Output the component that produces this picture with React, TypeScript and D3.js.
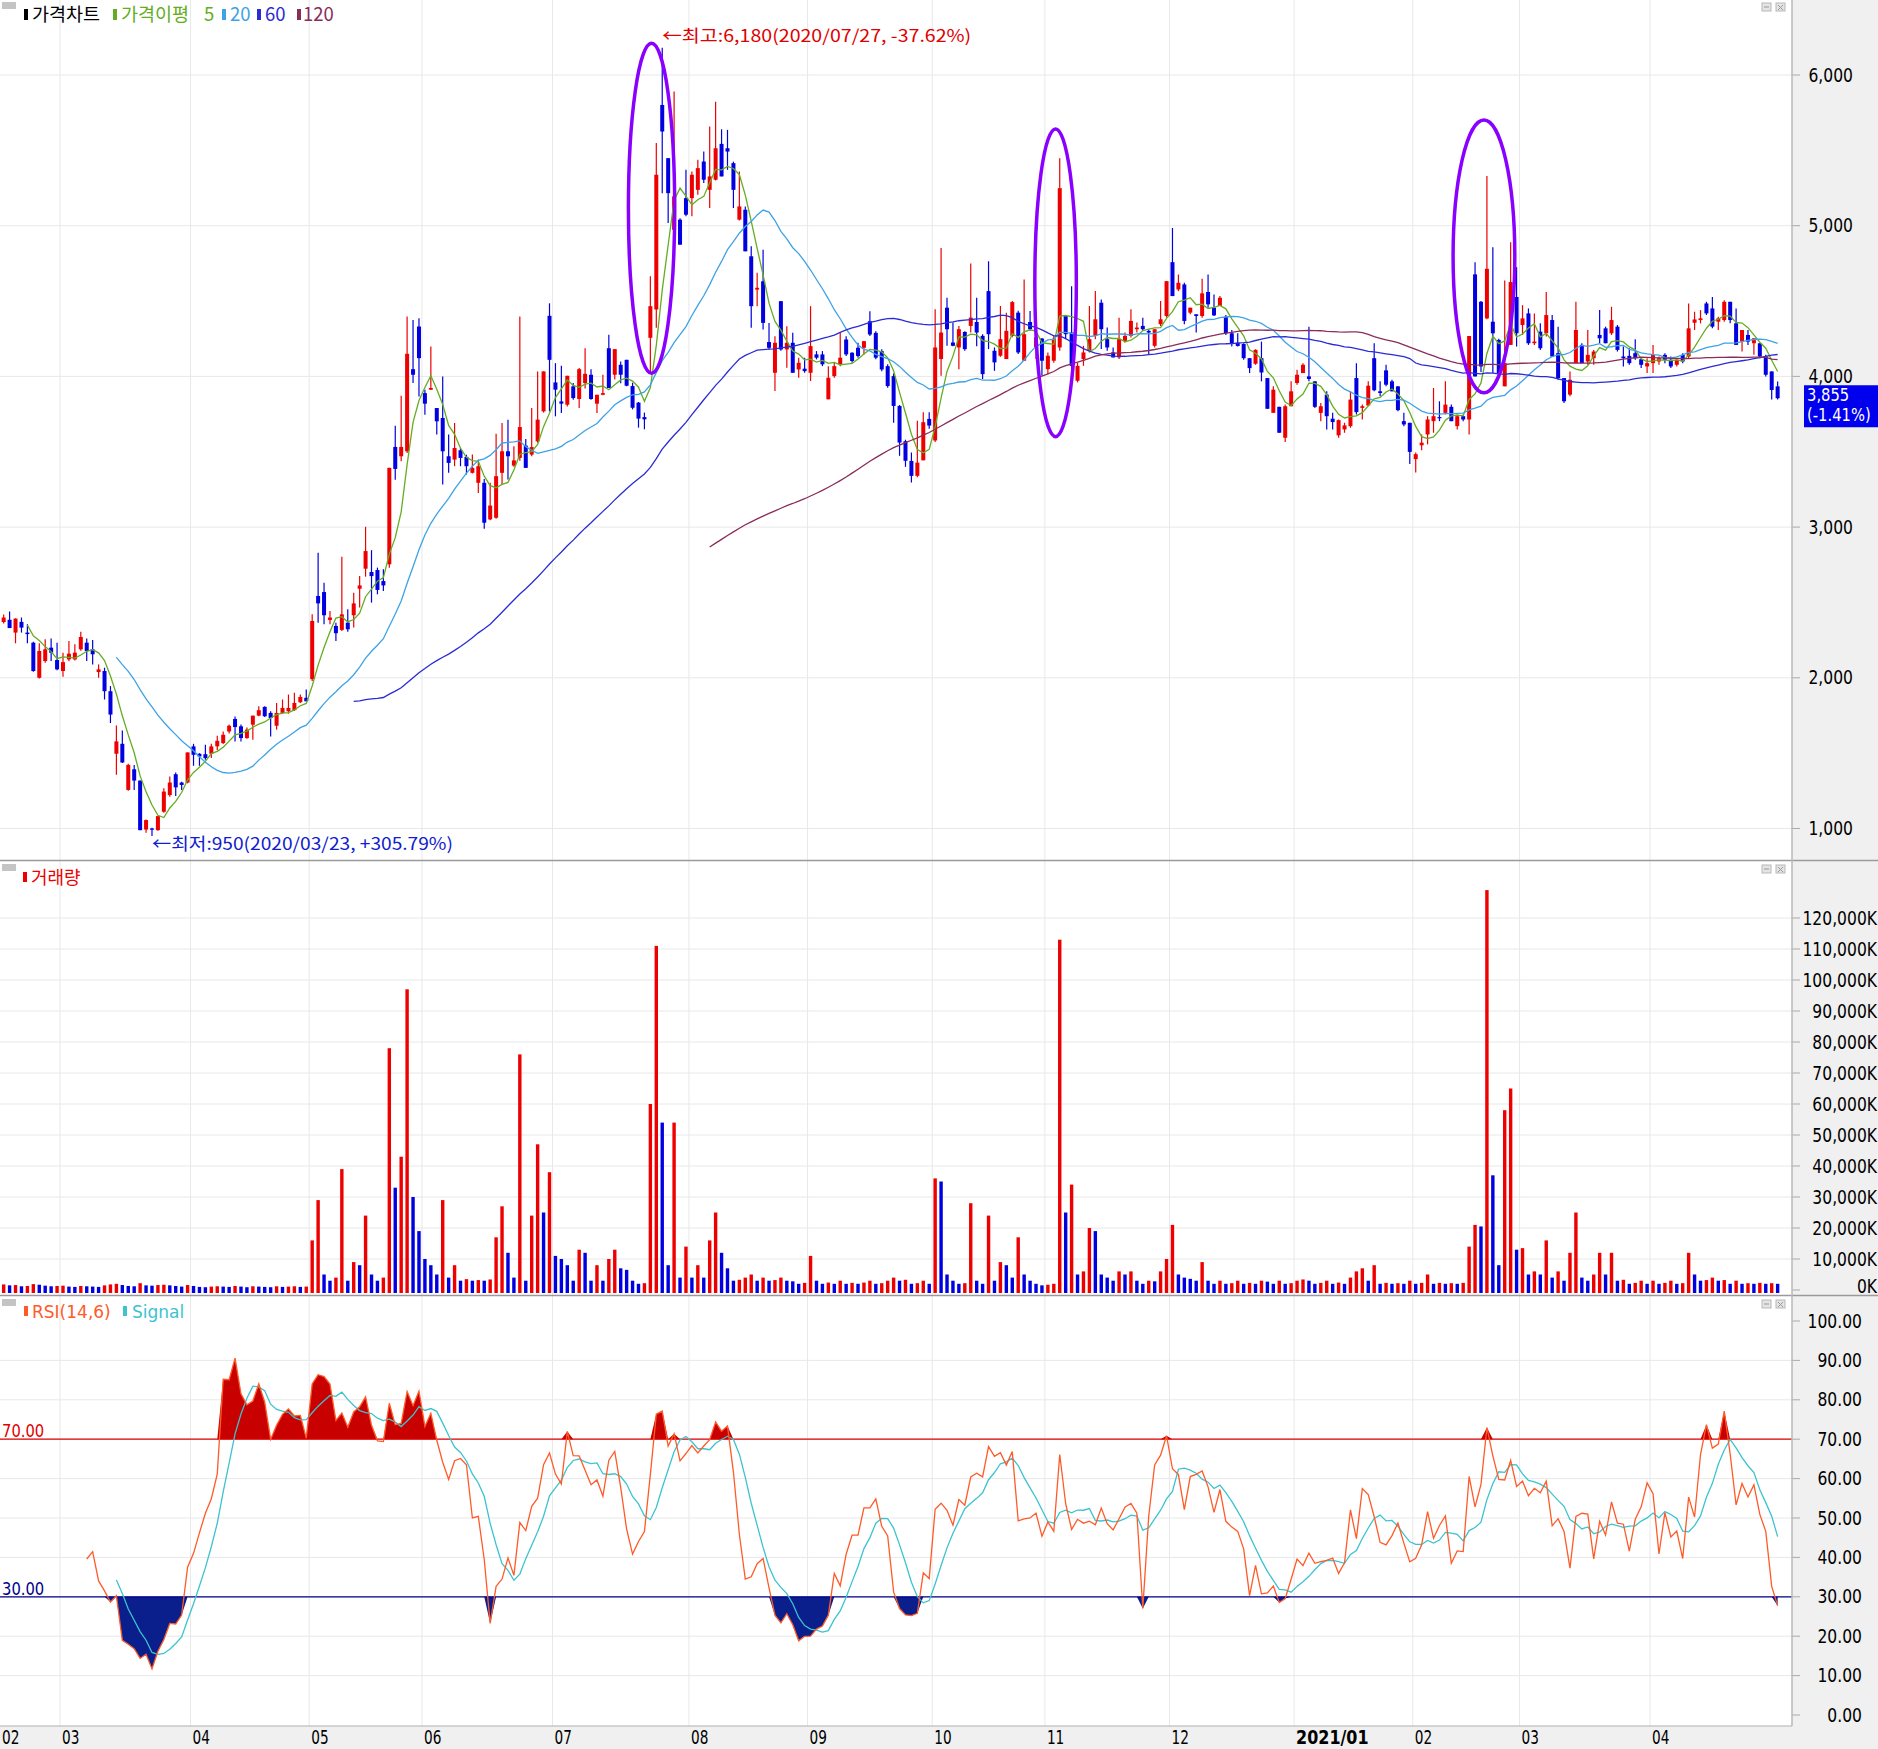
import React from 'react';
import * as d3 from 'd3';

const W = 1878;
const H = 1749;
const PLOT_R = 1792;

const monthLabels = ['02', '03', '04', '05', '06', '07', '08', '09', '10', '11', '12', '2021/01', '02', '03', '04'];
const monthTradingDays = [10, 22, 20, 19, 22, 23, 20, 21, 19, 21, 21, 20, 18, 22, 22];

const opens = [
  2370, 2385, 2300, 2371, 2300, 2233, 2000, 2111, 2200, 2118,
  2045, 2122, 2122, 2189, 2233, 2189, 2038, 2045, 1911, 1496,
  1562, 1256, 1393, 1318, 993, 1000, 989, 1111, 1222, 1360,
  1305, 1305, 1545, 1496, 1493, 1496, 1545, 1567, 1644, 1727,
  1678, 1600, 1689, 1749, 1807, 1767, 1682, 1767, 1778, 1785,
  1838, 1867, 1991, 2543, 2569, 2384, 2344, 2318, 2366, 2415,
  2591, 2724, 2702, 2715, 2642, 2753, 3532, 3470, 3503, 4048,
  4331, 3889, 3912, 3790, 3724, 3470, 3448, 3510, 3466, 3360,
  3294, 3294, 3051, 3062, 3360, 3503, 3408, 3459, 3541, 3481,
  3569, 3768, 4402, 3960, 3834, 3812, 3934, 3850, 3956, 4011,
  3819, 3878, 4187, 4011, 4077, 4110, 3936, 3826, 3730, 4256,
  4444, 5801, 5448, 4973, 5040, 5183, 5183, 5238, 5426, 5238,
  5305, 5543, 5514, 5415, 5040, 5106, 4797, 4576, 4631, 4228,
  4024, 4499, 4179, 4223, 4046, 4051, 4024, 4146, 4146, 3848,
  4002, 4079, 4245, 4157, 4190, 4190, 4366, 4289, 4168, 4068,
  4002, 3804, 3570, 3439, 3340, 3443, 3718, 3575, 4115, 4456,
  4225, 4192, 4295, 4335, 4361, 4269, 4566, 4170, 4137, 4115,
  4269, 4423, 4104, 4361, 4192, 4251, 4048, 4104, 4192, 4401,
  4291, 3971, 4115, 4170, 4269, 4489, 4247, 4159, 4126, 4236,
  4269, 4313, 4335, 4302, 4203, 4346, 4401, 4758, 4577, 4610,
  4423, 4412, 4401, 4560, 4456, 4467, 4396, 4286, 4224, 4215,
  4121, 4084, 4121, 3989, 3758, 3798, 3593, 3802, 3956, 4022,
  4000, 3967, 3758, 3879, 3719, 3609, 3648, 3670, 3989, 3791,
  3807, 4121, 3901, 4040, 3967, 3934, 3703, 3692, 3451, 3543,
  3615, 3703, 3730, 3758, 3798, 3670, 3736, 3714, 4677, 4495,
  4385, 4363, 4242, 3934, 4209, 4527, 4341, 4418, 4220, 4297,
  4286, 4374, 4154, 3989, 3879, 4088, 4209, 4099, 4121, 4275,
  4319, 4286, 4330, 4132, 4136, 4154, 4114, 4066, 4088, 4099,
  4143, 4110, 4077, 4143, 4132, 4356, 4374, 4484, 4451, 4363,
  4374, 4495, 4352, 4231, 4275, 4220, 4220, 4132, 4033, 3934,
];

const highs = [
  2420, 2440, 2395, 2400, 2355, 2240, 2230, 2256, 2260, 2233,
  2167, 2245, 2222, 2305, 2260, 2251, 2089, 2067, 1945, 1683,
  1651, 1430, 1422, 1318, 1060, 1005, 1085, 1267, 1345, 1371,
  1311, 1505, 1562, 1500, 1556, 1562, 1616, 1644, 1690, 1744,
  1690, 1670, 1749, 1811, 1811, 1778, 1833, 1856, 1889, 1900,
  1889, 1922, 2421, 2830, 2631, 2444, 2366, 2803, 2455, 2565,
  2675, 3002, 2847, 2731, 2720, 3393, 3673, 3872, 4397, 4375,
  4386, 3911, 4199, 3790, 4000, 3614, 3691, 3525, 3480, 3481,
  3448, 3320, 3294, 3620, 3691, 3713, 3536, 4397, 3585, 3790,
  4033, 4033, 4485, 4088, 4070, 4004, 3956, 4055, 4187, 4048,
  3878, 4011, 4276, 4181, 4099, 4110, 3958, 3830, 3760, 4664,
  5548, 6180, 5450, 5890, 5050, 5371, 5360, 5437, 5492, 5658,
  5823, 5640, 5636, 5425, 5360, 5128, 4863, 4687, 4841, 4355,
  4267, 4500, 4333, 4289, 4123, 4124, 4466, 4168, 4168, 4068,
  4090, 4289, 4267, 4160, 4223, 4234, 4433, 4300, 4180, 4080,
  4020, 3810, 3580, 3495, 3705, 3762, 3762, 4445, 4852, 4522,
  4357, 4335, 4300, 4749, 4522, 4280, 4764, 4192, 4467, 4423,
  4500, 4435, 4643, 4434, 4270, 4255, 4159, 4269, 5447, 4401,
  4599, 4090, 4203, 4467, 4566, 4511, 4324, 4192, 4390, 4291,
  4445, 4357, 4390, 4313, 4313, 4500, 4632, 4985, 4676, 4621,
  4456, 4412, 4648, 4676, 4544, 4533, 4407, 4308, 4286, 4220,
  4121, 4180, 4231, 3989, 3934, 3798, 3813, 3967, 4044, 4088,
  4330, 3967, 3824, 3901, 3758, 3714, 3692, 3901, 4088, 3813,
  3967, 4220, 3967, 4077, 3978, 3934, 3758, 3692, 3495, 3615,
  3736, 3923, 3835, 3967, 3813, 3747, 3747, 4268, 4758, 4500,
  5330, 4857, 4250, 4637, 4890, 4725, 4473, 4451, 4418, 4352,
  4560, 4407, 4330, 3989, 4033, 4495, 4220, 4308, 4176, 4440,
  4330, 4462, 4341, 4198, 4187, 4246, 4121, 4121, 4209, 4132,
  4154, 4132, 4121, 4154, 4484, 4429, 4440, 4495, 4527, 4396,
  4506, 4495, 4451, 4308, 4308, 4253, 4220, 4143, 4033, 3966,
];

const lows = [
  2360, 2330, 2229, 2300, 2229, 2040, 1995, 2100, 2111, 2050,
  2007, 2110, 2115, 2180, 2111, 2089, 2000, 1856, 1700, 1356,
  1435, 1250, 1256, 989, 971, 950, 985, 1105, 1211, 1216,
  1256, 1300, 1416, 1416, 1456, 1467, 1520, 1560, 1630, 1578,
  1578, 1595, 1589, 1745, 1740, 1611, 1656, 1762, 1762, 1780,
  1833, 1844, 1978, 2366, 2355, 2355, 2245, 2311, 2305, 2333,
  2466, 2671, 2499, 2554, 2576, 2731, 3315, 3437, 3492, 3956,
  3867, 3746, 3910, 3614, 3282, 3360, 3404, 3404, 3349, 3355,
  3227, 2989, 3045, 3055, 3282, 3316, 3400, 3440, 3393, 3470,
  3560, 3760, 3768, 3735, 3757, 3800, 3845, 3790, 3920, 3845,
  3757, 3875, 3923, 3980, 3955, 3934, 3781, 3660, 3649, 4024,
  4322, 5216, 5018, 4841, 4874, 5062, 5062, 5205, 5283, 5117,
  5300, 5327, 5371, 5117, 5035, 4830, 4322, 4466, 4311, 4179,
  3903, 4170, 4057, 4024, 3991, 4024, 3969, 4113, 4068, 3848,
  3991, 4068, 4135, 4090, 4124, 4146, 4268, 4113, 4035, 3925,
  3693, 3473, 3400, 3296, 3330, 3443, 3652, 3564, 4004, 4203,
  4200, 4048, 4170, 4291, 4200, 3982, 4181, 4037, 4130, 4115,
  4260, 4148, 4104, 4302, 4115, 4004, 4015, 4090, 4170, 4247,
  4048, 3960, 4070, 4159, 4247, 4181, 4170, 4126, 4115, 4225,
  4258, 4291, 4302, 4148, 4192, 4335, 4390, 4533, 4566, 4346,
  4412, 4291, 4390, 4456, 4401, 4467, 4275, 4198, 4198, 4110,
  4022, 4077, 3967, 3785, 3758, 3626, 3565, 3802, 3945, 4022,
  3967, 3791, 3703, 3648, 3648, 3593, 3626, 3659, 3747, 3714,
  3802, 3901, 3868, 3934, 3901, 3769, 3670, 3418, 3363, 3510,
  3549, 3626, 3703, 3747, 3703, 3648, 3703, 3615, 4000, 4030,
  4380, 4022, 4000, 3934, 4209, 4198, 4275, 4209, 4209, 4176,
  4264, 4132, 3978, 3824, 3868, 4088, 4088, 4077, 4077, 4220,
  4220, 4275, 4165, 4066, 4077, 4110, 4055, 4022, 4022, 4077,
  4088, 4055, 4066, 4088, 4121, 4308, 4352, 4407, 4319, 4308,
  4363, 4352, 4209, 4165, 4209, 4143, 4121, 3999, 3846, 3846,
];

const closes = [
  2400, 2330, 2393, 2333, 2290, 2045, 2178, 2189, 2167, 2056,
  2104, 2160, 2167, 2271, 2178, 2156, 2056, 1911, 1756, 1578,
  1438, 1422, 1318, 989, 1056, 993, 1082, 1245, 1305, 1273,
  1289, 1505, 1489, 1478, 1467, 1545, 1582, 1622, 1682, 1673,
  1600, 1656, 1749, 1785, 1745, 1733, 1767, 1800, 1800, 1833,
  1873, 1844, 2377, 2494, 2415, 2400, 2296, 2421, 2322, 2494,
  2613, 2841, 2675, 2583, 2613, 3393, 3386, 3532, 4150, 4011,
  4121, 3819, 3923, 3702, 3503, 3426, 3525, 3459, 3404, 3393,
  3404, 3029, 3143, 3338, 3503, 3470, 3443, 3664, 3393, 3531,
  3713, 4033, 4110, 3912, 3819, 4004, 3856, 4048, 4017, 3850,
  3878, 3889, 3923, 4181, 4011, 3938, 3792, 3720, 3715, 4466,
  5338, 5625, 5216, 5194, 4874, 5073, 5338, 5382, 5305, 5327,
  5514, 5327, 5492, 5238, 5128, 4830, 4466, 4588, 4355, 4190,
  4223, 4179, 4223, 4024, 4090, 4035, 4201, 4124, 4080, 3991,
  4068, 4124, 4146, 4102, 4135, 4234, 4278, 4124, 4046, 3936,
  3804, 3561, 3440, 3340, 3428, 3696, 3674, 4192, 4291, 4313,
  4203, 4313, 4181, 4390, 4291, 4015, 4280, 4093, 4247, 4302,
  4493, 4159, 4280, 4313, 4258, 4104, 4137, 4251, 5249, 4280,
  4070, 4070, 4159, 4247, 4379, 4313, 4192, 4126, 4247, 4269,
  4368, 4324, 4313, 4291, 4313, 4379, 4632, 4533, 4621, 4368,
  4456, 4401, 4551, 4478, 4405, 4522, 4286, 4215, 4202, 4121,
  4055, 4176, 4026, 3785, 3912, 3626, 3802, 3901, 4011, 4077,
  3983, 3798, 3802, 3736, 3697, 3710, 3675, 3846, 3763, 3802,
  3938, 3908, 3890, 3945, 3901, 3776, 3681, 3499, 3484, 3560,
  3714, 3736, 3725, 3813, 3703, 3736, 3714, 4268, 4000, 4066,
  4714, 4286, 4022, 4088, 4626, 4286, 4385, 4220, 4231, 4187,
  4407, 4132, 3989, 3835, 3978, 4308, 4088, 4143, 4165, 4253,
  4220, 4374, 4176, 4121, 4088, 4121, 4077, 4088, 4143, 4121,
  4110, 4066, 4110, 4099, 4319, 4378, 4385, 4418, 4330, 4385,
  4495, 4374, 4209, 4308, 4231, 4253, 4132, 4011, 3910, 3855,
];

// volume in millions of shares (1 = 1,000K)
const volumeMillions = [
  1.8, 1.5, 1.6, 1.2, 1.3, 1.9, 1.7, 1.4, 1.2, 1.3,
  1.4, 1.1, 1.0, 1.3, 1.2, 1.1, 1.0, 1.5, 1.8, 2.0,
  1.6, 1.3, 1.2, 2.2, 1.5, 1.4, 1.6, 1.7, 1.5, 1.3,
  1.1, 1.6, 1.3, 1.0, 0.9, 1.1, 1.2, 1.1, 1.0, 1.3,
  1.1, 0.9, 1.2, 1.1, 1.0, 0.9, 1.2, 1.0, 1.1, 1.2,
  1.0, 1.1, 16, 29, 5, 3, 4, 39, 3, 9,
  8, 24, 5, 3, 4, 78, 33, 43, 97, 30,
  19, 10, 8, 5, 29, 4, 8, 3, 3.5, 3,
  3.2, 3, 3.4, 17, 27, 12, 4, 76, 3, 24,
  47, 25, 38, 11, 10, 8, 3, 13, 12, 3,
  8, 3, 10, 13, 7, 6.5, 3, 2, 2.2, 60,
  111, 54, 8, 54, 4, 14, 4, 8, 4, 16,
  25, 12, 7, 3, 3.3, 4, 5, 3, 4, 3,
  3.2, 4, 3, 2.8, 2, 2.3, 11, 3, 2, 2.4,
  2, 3, 2, 2.3, 2, 2.4, 3, 2, 2.2, 3,
  4, 3, 3.3, 2, 2.2, 3, 2, 36, 35, 5,
  3, 2, 2.2, 28, 3, 2, 24, 3, 9, 8,
  4, 17, 5, 3, 2, 1.5, 1.7, 2, 113, 25,
  34, 5, 6, 20, 19, 5, 4, 3, 6, 5,
  6, 3, 2, 3, 2.8, 6, 10, 21, 5, 4,
  3.6, 3, 9, 3, 2, 3, 2, 2.2, 3, 2,
  2.3, 2, 3, 2.7, 2, 3, 2, 2.2, 3, 3.4,
  3, 2, 2.3, 3, 2, 2.4, 2, 4, 6, 7,
  3, 8, 2, 2.3, 2, 2.2, 2, 3, 2, 2.3,
  5, 2, 2.3, 2, 2.2, 2, 2.3, 14, 21, 20.5,
  129, 37, 8, 58, 65, 13, 13.5, 5, 6, 5,
  16, 4, 6, 3, 12, 25, 4, 3, 5, 12,
  5, 12, 3, 3.3, 2, 2.3, 3, 2, 3, 2,
  2.3, 3, 2, 2.2, 12, 5, 3, 3.2, 4, 3,
  3.2, 2, 3, 2, 2.2, 2, 2.3, 2, 2.2, 2,
];

const priceTicks = [1000, 2000, 3000, 4000, 5000, 6000];
const volumeTicks = [0, 10, 20, 30, 40, 50, 60, 70, 80, 90, 100, 110, 120];
const rsiTicks = [0, 10, 20, 30, 40, 50, 60, 70, 80, 90, 100];

const maPeriods = [5, 20, 60, 120];
const maColors = ['#64ad22', '#3ea2e6', '#2b2bd6', '#8a2c5a'];
const maLegendLabels = ['5', '20', '60', '120'];

const ellipseSlots = [109.2, 177.3, 249.5];
const ellipseTopPrice = [6210, 5642, 5701];
const ellipseBottomPrice = [4021, 3600, 3892];
const ellipseHalfSlots = [3.9, 3.5, 5.2];

const highIndex = 111;
const highDate = '2020/07/27';
const lowIndex = 25;
const lowDate = '2020/03/23';

const UP = '#ee0000';
const DOWN = '#0000e0';
const GRID = '#e8e8e8';
const AXIS_BG = '#f0f0f0';
const NUM_FONT = "'DejaVu Sans', 'Noto Sans', sans-serif";
const KR_FONT = "'Noto Sans CJK KR', 'Noto Sans', sans-serif";

type NTProps = {
  x: number; y: number; anchor?: string; sx?: number; size?: number; fill?: string; weight?: string;
  baseline?: string; children: React.ReactNode; family?: string;
};
const NT = ({ x, y, anchor = 'start', sx = 0.82, size = 19, fill = '#000', weight = 'normal', baseline = 'central', children, family = NUM_FONT }: NTProps) => (
  <text
    transform={`translate(${x},${y}) scale(${sx},1)`}
    textAnchor={anchor as any}
    fontSize={size}
    fill={fill}
    fontWeight={weight}
    fontFamily={family}
    dominantBaseline={baseline as any}
  >
    {children}
  </text>
);

const sma = (arr: (number | null)[], p: number): (number | null)[] =>
  arr.map((_, i) => {
    if (i < p - 1) return null;
    const s = arr.slice(i - p + 1, i + 1);
    if (s.some((v) => v == null)) return null;
    return d3.mean(s as number[]) as number;
  });

const PanelIcons = ({ y }: { y: number }) => (
  <g>
    <rect x={2} y={y + 2} width={14} height={7} fill="#c4c4c4" />
    <rect x={1762} y={y + 3} width={9} height={8} fill="#e4e4e4" stroke="#b8b8b8" strokeWidth={1} />
    <line x1={1764} y1={y + 7} x2={1769} y2={y + 7} stroke="#999" strokeWidth={1} />
    <rect x={1776} y={y + 3} width={9} height={8} fill="#e4e4e4" stroke="#b8b8b8" strokeWidth={1} />
    <path d={`M1778,${y + 5}L1783,${y + 10}M1783,${y + 5}L1778,${y + 10}`} stroke="#999" strokeWidth={1} />
  </g>
);

export default function App() {
  const n = closes.length;
  const x = d3.scaleLinear().domain([-0.5, n - 0.5]).range([0.7, 0.7 + n * 5.933]);
  const yP = d3.scaleLinear().domain([1000, 6000]).range([828.5, 75]);
  const yV = d3.scaleLinear().domain([0, 120]).range([1290, 918]);
  const yR = d3.scaleLinear().domain([0, 100]).range([1715, 1321]);

  const monthStarts: number[] = [];
  monthTradingDays.reduce((acc, d) => {
    monthStarts.push(acc);
    return acc + d;
  }, 0);

  const mas = maPeriods.map((p) => sma(closes, p));

  const rsi: (number | null)[] = closes.map((_, i) => {
    if (i < 14) return null;
    let up = 0;
    let dn = 0;
    for (let k = i - 13; k <= i; k++) {
      const d = closes[k] - closes[k - 1];
      if (d > 0) up += d;
      else dn -= d;
    }
    return up + dn === 0 ? 50 : (100 * up) / (up + dn);
  });
  const signal = sma(rsi, 6);

  const priceLine = (arr: (number | null)[]) =>
    d3.line<number | null>().defined((d) => d != null).x((_, i) => x(i)).y((d) => yP(d as number))(arr) || '';
  const rsiLine = (arr: (number | null)[]) =>
    d3.line<number | null>().defined((d) => d != null).x((_, i) => x(i)).y((d) => yR(d as number))(arr) || '';
  const areaHigh =
    d3.area<number | null>().defined((d) => d != null).x((_, i) => x(i)).y0(yR(70)).y1((d) => yR(Math.max(d as number, 70)))(rsi) || '';
  const areaLow =
    d3.area<number | null>().defined((d) => d != null).x((_, i) => x(i)).y0(yR(30)).y1((d) => yR(Math.min(d as number, 30)))(rsi) || '';

  const last = closes[n - 1];
  const prev = closes[n - 2];
  const chg = ((last / prev - 1) * 100).toFixed(2);
  const hiVal = highs[highIndex];
  const loVal = lows[lowIndex];
  const hiPct = ((last / hiVal - 1) * 100).toFixed(2);
  const loPct = ((last / loVal - 1) * 100).toFixed(2);
  const fmt = d3.format(',');

  const bodyW = 4;
  const volW = 3.4;

  return (
    <div style={{ position: 'absolute', left: 0, top: 0, width: W, height: H }}>
      <svg width={W} height={H} style={{ display: 'block', background: '#fff' }}>
        <defs>
          <clipPath id="clipP"><rect x={0} y={0} width={PLOT_R} height={860} /></clipPath>
          <clipPath id="clipV"><rect x={0} y={862} width={PLOT_R} height={432} /></clipPath>
          <clipPath id="clipR"><rect x={0} y={1297} width={PLOT_R} height={428} /></clipPath>
        </defs>
        <rect x={PLOT_R} y={0} width={W - PLOT_R} height={H} fill={AXIS_BG} />
        <rect x={0} y={1726} width={W} height={H - 1726} fill={AXIS_BG} />

        {monthStarts.slice(1).map((s, k) => (
          <line key={'mg' + k} x1={x(s - 0.5)} x2={x(s - 0.5)} y1={0} y2={1726} stroke={GRID} strokeWidth={1} />
        ))}

        {/* ===== price panel ===== */}
        {priceTicks.map((t) => (
          <g key={'pt' + t}>
            <line x1={0} x2={PLOT_R} y1={yP(t)} y2={yP(t)} stroke={GRID} strokeWidth={1} />
            <line x1={PLOT_R} x2={PLOT_R + 8} y1={yP(t)} y2={yP(t)} stroke="#aaa" strokeWidth={1} />
            <NT x={1853} y={yP(t)} anchor="end">{fmt(t)}</NT>
          </g>
        ))}
        <g clipPath="url(#clipP)">
          {closes.map((c, i) => {
            const o = opens[i];
            const up = c >= o;
            const col = up ? UP : DOWN;
            const top = yP(Math.max(o, c));
            const bot = yP(Math.min(o, c));
            return (
              <g key={'c' + i}>
                <line x1={x(i)} x2={x(i)} y1={yP(highs[i])} y2={yP(lows[i])} stroke={col} strokeWidth={1.2} />
                <rect x={x(i) - bodyW / 2} y={top} width={bodyW} height={Math.max(bot - top, 1.2)} fill={col} />
              </g>
            );
          })}
          {mas.map((m, k) => (
            <path key={'ma' + k} d={priceLine(m)} fill="none" stroke={maColors[k]} strokeWidth={1.3} />
          ))}
          {ellipseSlots.map((s, k) => {
            const cy = (yP(ellipseTopPrice[k]) + yP(ellipseBottomPrice[k])) / 2;
            const ry = (yP(ellipseBottomPrice[k]) - yP(ellipseTopPrice[k])) / 2;
            const rx = x(s + ellipseHalfSlots[k]) - x(s);
            return <ellipse key={'el' + k} cx={x(s)} cy={cy} rx={rx} ry={ry} fill="none" stroke="#8a00ff" strokeWidth={3.5} />;
          })}
        </g>
        <text x={x(highIndex)} y={42} fontSize={17} fill="#e00000" fontFamily={KR_FONT} textLength={309} lengthAdjust="spacingAndGlyphs">
          {`←최고:${fmt(hiVal)}(${highDate}, ${hiPct}%)`}
        </text>
        <text x={x(lowIndex)} y={850} fontSize={17} fill="#1020d0" fontFamily={KR_FONT} textLength={301} lengthAdjust="spacingAndGlyphs">
          {`←최저:${fmt(loVal)}(${lowDate}, +${loPct}%)`}
        </text>
        <rect x={1804} y={yP(last) - 13} width={W - 1804} height={42} fill="#0000ee" />
        <NT x={1807} y={yP(last) - 3} fill="#fff" size={18}>{fmt(last)}</NT>
        <NT x={1807} y={yP(last) + 17} fill="#fff" size={18}>{`(${chg}%)`}</NT>

        <PanelIcons y={0} />
        <rect x={24} y={9} width={4} height={11} fill="#000" />
        <text x={32} y={21} fontSize={18.5} fontFamily={KR_FONT} fill="#000">가격차트</text>
        <rect x={113} y={9} width={4} height={11} fill={maColors[0]} />
        <text x={121} y={21} fontSize={18.5} fontFamily={KR_FONT} fill={maColors[0]}>가격이평</text>
        <text x={204} y={21} fontSize={18.5} fontFamily={KR_FONT} fill={maColors[0]}>{maLegendLabels[0]}</text>
        <rect x={222} y={9} width={4} height={11} fill={maColors[1]} />
        <text x={230} y={21} fontSize={18.5} fontFamily={KR_FONT} fill={maColors[1]}>{maLegendLabels[1]}</text>
        <rect x={257} y={9} width={4} height={11} fill={maColors[2]} />
        <text x={265} y={21} fontSize={18.5} fontFamily={KR_FONT} fill={maColors[2]}>{maLegendLabels[2]}</text>
        <rect x={297} y={9} width={4} height={11} fill={maColors[3]} />
        <text x={303} y={21} fontSize={18.5} fontFamily={KR_FONT} fill={maColors[3]}>{maLegendLabels[3]}</text>

        <line x1={0} x2={W} y1={860.5} y2={860.5} stroke="#9a9a9a" strokeWidth={1.5} />

        {/* ===== volume panel ===== */}
        {volumeTicks.map((t) => (
          <g key={'vt' + t}>
            {t > 0 && <line x1={0} x2={PLOT_R} y1={yV(t)} y2={yV(t)} stroke={GRID} strokeWidth={1} />}
            <line x1={PLOT_R} x2={PLOT_R + 8} y1={yV(t)} y2={yV(t)} stroke="#aaa" strokeWidth={1} />
            <NT x={1877} y={t === 0 ? yV(t) - 4 : yV(t)} anchor="end">{`${fmt(t * 1000)}K`}</NT>
          </g>
        ))}
        <g clipPath="url(#clipV)">
          {volumeMillions.map((v, i) => (
            <rect
              key={'v' + i}
              x={x(i) - volW / 2}
              y={yV(v)}
              width={volW}
              height={yV(0) - yV(v) + 3}
              fill={i === 0 || v > volumeMillions[i - 1] ? UP : DOWN}
            />
          ))}
        </g>
        <PanelIcons y={862} />
        <rect x={23} y={872} width={4} height={10} fill="#ee0000" />
        <text x={31} y={884} fontSize={18} fontFamily={KR_FONT} fill="#ee0000">거래량</text>

        <line x1={0} x2={W} y1={1295.5} y2={1295.5} stroke="#9a9a9a" strokeWidth={1.5} />

        {/* ===== RSI panel ===== */}
        {rsiTicks.map((t) => (
          <g key={'rt' + t}>
            {t > 0 && t < 100 && <line x1={0} x2={PLOT_R} y1={yR(t)} y2={yR(t)} stroke={GRID} strokeWidth={1} />}
            <line x1={PLOT_R} x2={PLOT_R + 8} y1={yR(t)} y2={yR(t)} stroke="#aaa" strokeWidth={1} />
            <NT x={1862} y={yR(t)} anchor="end">{t.toFixed(2)}</NT>
          </g>
        ))}
        <g clipPath="url(#clipR)">
          <path d={areaHigh} fill="#c80000" />
          <path d={areaLow} fill="#0a1e8c" />
          <line x1={0} x2={PLOT_R} y1={yR(70)} y2={yR(70)} stroke="#e00000" strokeWidth={1.2} />
          <line x1={0} x2={PLOT_R} y1={yR(30)} y2={yR(30)} stroke="#00008c" strokeWidth={1.2} />
          <path d={rsiLine(signal)} fill="none" stroke="#3cc3cf" strokeWidth={1.3} />
          <path d={rsiLine(rsi)} fill="none" stroke="#ff5a28" strokeWidth={1.3} />
        </g>
        <NT x={2} y={yR(70) - 2} fill="#e00000" baseline="auto" size={18}>70.00</NT>
        <NT x={2} y={yR(30) - 2} fill="#00008c" baseline="auto" size={18}>30.00</NT>
        <PanelIcons y={1297} />
        <rect x={24} y={1306} width={4} height={10} fill="#ff5a28" />
        <text x={32} y={1318} fontSize={17} fontFamily={NUM_FONT} fill="#ff5a28">RSI(14,6)</text>
        <rect x={123} y={1306} width={4} height={10} fill="#3cc3cf" />
        <text x={132} y={1318} fontSize={17} fontFamily={NUM_FONT} fill="#3cc3cf">Signal</text>

        <line x1={0} x2={PLOT_R} y1={1726} y2={1726} stroke="#b0b0b0" strokeWidth={1} />
        <line x1={PLOT_R} x2={PLOT_R} y1={0} y2={1726} stroke="#b8b8b8" strokeWidth={1.5} />

        {monthStarts.map((s, k) => {
          const bx = k === 0 ? 2 : x(s - 0.5) + 2;
          const bold = monthLabels[k].length > 2;
          return (
            <NT key={'ml' + k} x={bx} y={1738} sx={bold ? 0.84 : 0.72} weight={bold ? 'bold' : 'normal'}>
              {monthLabels[k]}
            </NT>
          );
        })}
      </svg>
    </div>
  );
}
